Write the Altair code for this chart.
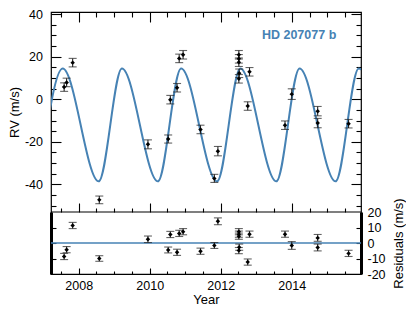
import altair as alt
import pandas as pd

# ---------------- data ----------------
rv_year = [2007.59, 2007.66, 2007.83, 2008.58, 2009.95, 2010.52, 2010.58, 2010.77,
           2010.83, 2010.94, 2011.43, 2011.82, 2011.92, 2012.51, 2012.51, 2012.51,
           2012.52, 2012.51, 2012.76, 2012.81, 2013.81, 2014.00, 2014.73, 2014.73,
           2015.60]
rv_val = [5.7, 7.9, 17.2, -47.3, -21.2, -18.7, -0.2, 5.4,
          19.2, 20.9, -14.2, -37.2, -24.4, 20.9, 19.0, 17.4,
          12.2, 9.6, -3.2, 12.9, -12.2, 2.4, -5.6, -11.2,
          -11.5]
rv_err = [2.0, 2.0, 2.0, 1.8, 2.1, 1.9, 2.0, 2.0,
          2.0, 2.0, 2.0, 1.9, 2.2, 2.0, 2.0, 2.0,
          2.0, 2.0, 2.0, 2.0, 2.0, 2.5, 2.2, 2.2,
          2.0]
resid = [-8.7, -4.3, 11.3, -10.0, 2.4, -4.5, 5.5, -6.0,
         6.2, 7.3, -5.3, -1.6, 14.0, 7.3, 5.7, 4.4,
         -2.7, -4.9, -12.3, 5.7, 5.7, -1.6, 3.3, -2.9,
         -6.7]

# model curve: extrema (library smooths between them)
curve_year = [2006.895, 2007.549, 2008.563, 2009.217, 2010.231, 2010.884, 2011.898,
              2012.552, 2013.566, 2014.220, 2015.234, 2015.887, 2016.901]
curve_rv = [-38.6, 14.4, -38.6, 14.4, -38.6, 14.4, -38.6,
            14.4, -38.6, 14.4, -38.6, 14.4, -38.6]

x_major = [2008, 2010, 2012, 2014]
x_minor = [2007.5, 2008.5, 2009, 2009.5, 2010.5, 2011, 2011.5, 2012.5, 2013,
           2013.5, 2014.5, 2015, 2015.5]
y_major = [-40, -20, 0, 20, 40]
y_minor = [-50, -45, -35, -30, -25, -15, -10, -5, 5, 10, 15, 25, 30, 35]
r_labels = [-20, -10, 0, 10, 20]
r_ticks = [-10, 0, 10]

# ---------------- layout constants ----------------
W = 310
H1 = 200
H2 = 62
H = H1 + H2
XDOM = [2007.22, 2015.95]
YDOM = [-53, 41]
RDOM = [-20, 20]
BLUE = "#4682b4"
EC = "#222222"
FONT = "Liberation Sans"

df = pd.DataFrame({
    "year": rv_year, "rv": rv_val,
    "lo": [v - e for v, e in zip(rv_val, rv_err)],
    "hi": [v + e for v, e in zip(rv_val, rv_err)],
    "res": resid,
    "rlo": [v - e for v, e in zip(resid, rv_err)],
    "rhi": [v + e for v, e in zip(resid, rv_err)],
})
dfc = pd.DataFrame({"year": curve_year, "rv": curve_rv})
one = pd.DataFrame({"k": [0]})


def xs():
    return alt.Scale(domain=XDOM, nice=False, zero=False)


def ys():
    return alt.Scale(domain=YDOM, range=[H1, 0], nice=False, zero=False)


def rs():
    return alt.Scale(domain=RDOM, range=[H, H1], nice=False, zero=False)


def tick_axis(orient, values, size, offset):
    return alt.Axis(orient=orient, values=values, tickSize=size, offset=offset,
                    labels=False, domain=False, grid=False, title=None,
                    ticks=True, tickColor="black", tickWidth=1.1)


LBL = dict(labelFont=FONT, labelFontSize=12.5, labelColor="black",
           titleFont=FONT, titleFontSize=13, titleFontWeight="normal",
           titleColor="black", labelExpr="'' + datum.value")

X1 = alt.Axis(orient="bottom", values=x_major, tickSize=6, offset=-6, labels=True,
              labelPadding=5, domain=False, grid=False, ticks=True, tickColor="black",
              tickWidth=1.1, title="Year", titlePadding=2, **LBL)
X2 = tick_axis("bottom", x_minor, 3, -3)
X3 = tick_axis("top", x_major, 10, -10)
X4 = tick_axis("top", x_minor, 5, -5)
X5 = tick_axis("bottom", x_major, 9, -(H2 + 9))
X6 = tick_axis("bottom", x_minor, 4, -(H2 + 4))

Y1 = alt.Axis(orient="left", values=y_major, tickSize=10, offset=-10, labels=True,
              labelPadding=8.5, domain=False, grid=False, ticks=True, tickColor="black",
              tickWidth=1.1, title="RV (m/s)", titlePadding=3, **LBL)
Y2 = tick_axis("left", y_minor, 5, -5)
Y3 = tick_axis("right", y_major, 10, -10)
Y4 = tick_axis("right", y_minor, 5, -5)

Y5 = alt.Axis(orient="left", labels=False, ticks=False, domain=True, domainWidth=3,
              domainColor="black", grid=False, title=None)
Y6 = tick_axis("left", r_ticks, 5, -5)
Y7 = alt.Axis(orient="right", values=r_labels, ticks=False, tickSize=0, labels=True,
              labelPadding=6, domain=True, domainWidth=3, domainColor="black",
              grid=False, title="Residuals (m/s)", titleAngle=270, titleBaseline="top",
              titlePadding=7, **LBL)
Y8 = tick_axis("right", r_ticks, 5, -5)

base = alt.Chart(df)

curve = alt.Chart(dfc).mark_line(color=BLUE, strokeWidth=2, interpolate="monotone",
                                 clip=True).encode(
    x=alt.X("year:Q", scale=xs(), axis=X1),
    y=alt.Y("rv:Q", scale=ys(), axis=Y1))

err = base.mark_rule(color=EC, strokeWidth=1.1).encode(
    x=alt.X("year:Q", scale=xs(), axis=X2),
    y=alt.Y("lo:Q", scale=ys(), axis=Y2), y2="hi:Q")
cap_lo = base.mark_tick(orient="horizontal", size=8, thickness=1.1, color=EC).encode(
    x=alt.X("year:Q", scale=xs(), axis=X3),
    y=alt.Y("lo:Q", scale=ys(), axis=Y3))
cap_hi = base.mark_tick(orient="horizontal", size=8, thickness=1.1, color=EC).encode(
    x=alt.X("year:Q", scale=xs(), axis=X4),
    y=alt.Y("hi:Q", scale=ys(), axis=Y4))
pts = base.mark_point(shape="diamond", filled=True, size=20, color="black",
                      opacity=1).encode(
    x=alt.X("year:Q", scale=xs(), axis=X5),
    y=alt.Y("rv:Q", scale=ys(), axis=None))

divider = alt.Chart(one).mark_rule(color="black", strokeWidth=1.2).encode(
    y=alt.YDatum(YDOM[0], scale=ys(), axis=None))

zero = alt.Chart(one).mark_rule(color=BLUE, strokeWidth=1.5).encode(
    y=alt.YDatum(0, scale=rs(), axis=Y5))
rerr = base.mark_rule(color=EC, strokeWidth=1.1).encode(
    x=alt.X("year:Q", scale=xs(), axis=X6),
    y=alt.Y("rlo:Q", scale=rs(), axis=Y6), y2="rhi:Q")
rcap_lo = base.mark_tick(orient="horizontal", size=8, thickness=1.1, color=EC).encode(
    x=alt.X("year:Q", scale=xs(), axis=None),
    y=alt.Y("rlo:Q", scale=rs(), axis=Y7))
rcap_hi = base.mark_tick(orient="horizontal", size=8, thickness=1.1, color=EC).encode(
    x=alt.X("year:Q", scale=xs(), axis=None),
    y=alt.Y("rhi:Q", scale=rs(), axis=Y8))
rpts = base.mark_point(shape="diamond", filled=True, size=20, color="black",
                       opacity=1).encode(
    x=alt.X("year:Q", scale=xs(), axis=None),
    y=alt.Y("res:Q", scale=rs(), axis=None))

label = alt.Chart(one).mark_text(text="HD 207077 b", align="left", baseline="middle",
                                 font=FONT, fontSize=12.5, fontWeight="bold",
                                 color=BLUE).encode(
    x=alt.XDatum(2013.16, scale=xs(), axis=None),
    y=alt.YDatum(30.4, scale=ys(), axis=None))

chart = alt.layer(curve, err, cap_lo, cap_hi, pts, divider, zero, rerr, rcap_lo,
                  rcap_hi, rpts, label).resolve_scale(
    y="independent").resolve_axis(x="independent", y="independent").properties(
    width=W, height=H, padding=0).configure_view(stroke="black", strokeWidth=1.2)

chart.save("out.html", embed_options={"renderer": "svg", "actions": False})
